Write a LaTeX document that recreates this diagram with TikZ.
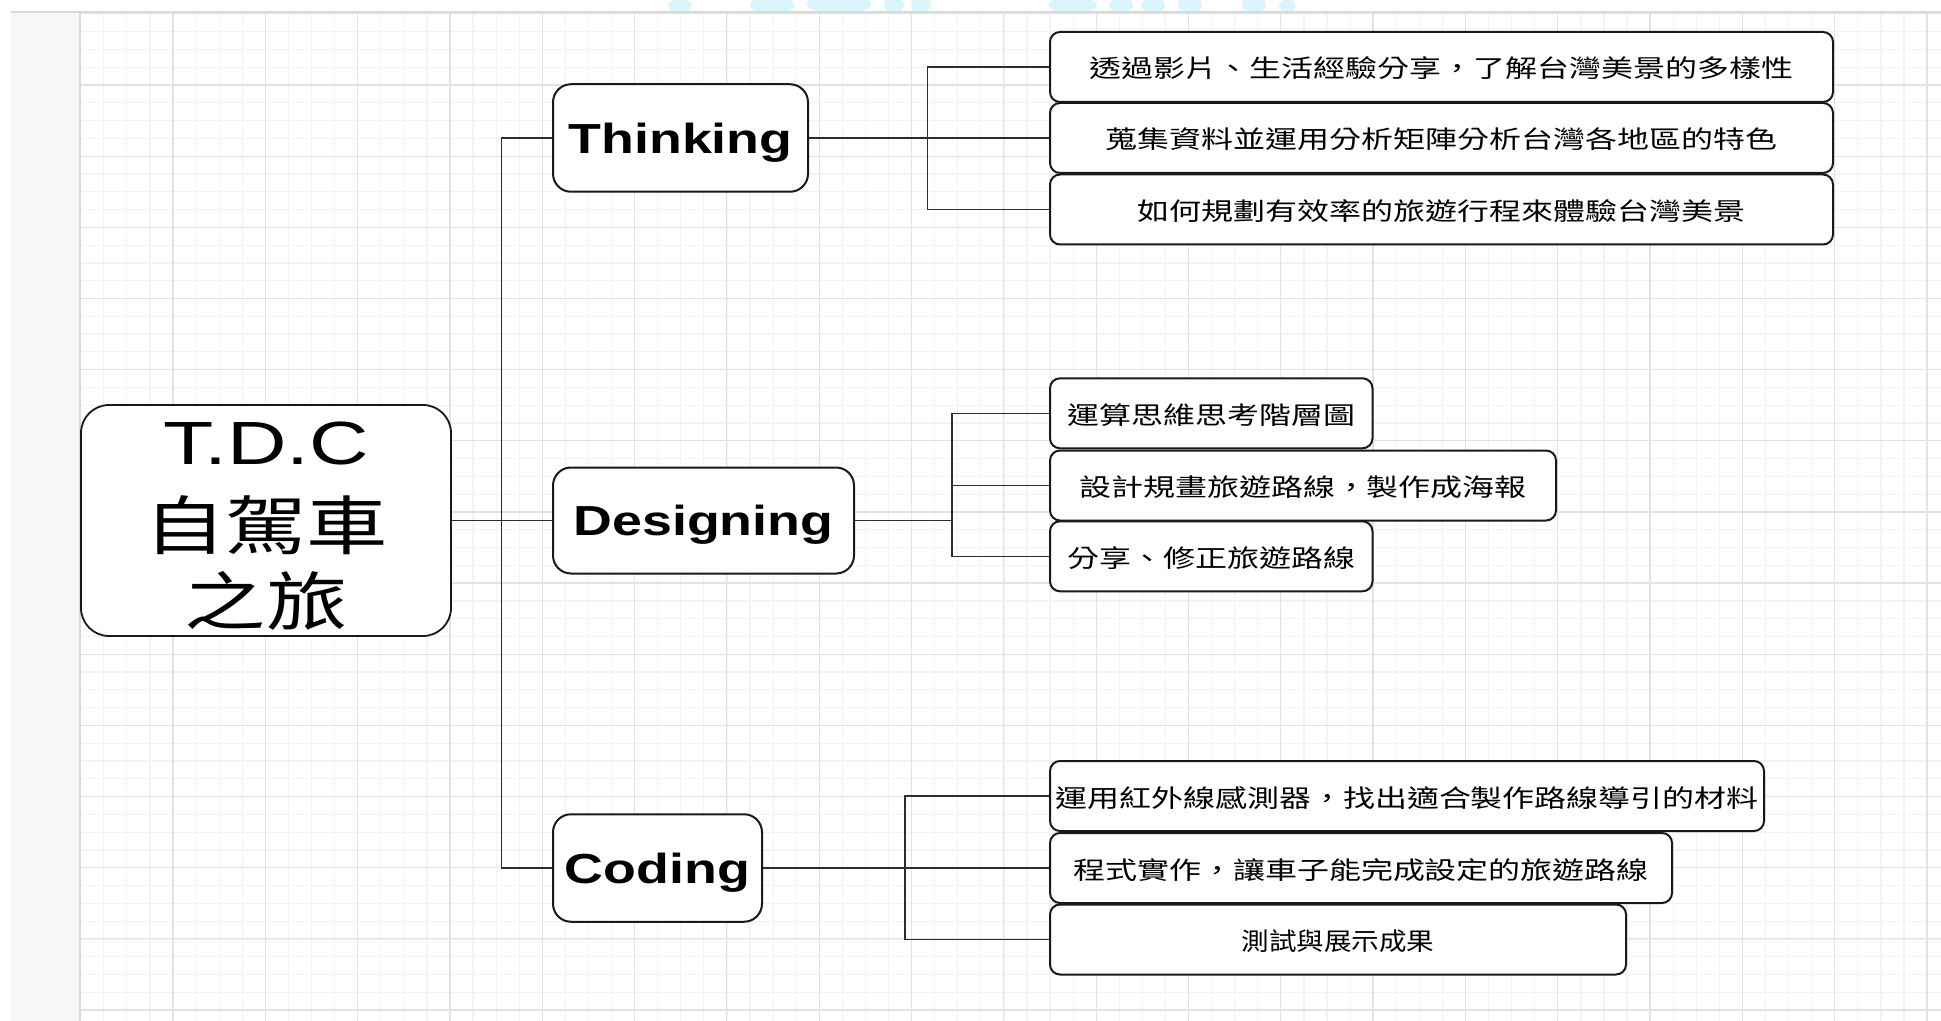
\documentclass[tikz,border=0pt]{standalone}
\usepackage{fontspec}
\setmainfont{Liberation Sans}
\newfontfamily\enfont[FakeStretch=1.28]{Liberation Sans}
\newfontfamily\tdcfont[FakeStretch=1.35]{Liberation Sans}
\newfontfamily\cjkfont[FakeStretch=1.3]{Noto Sans CJK TC}
\newfontfamily\cjknarrow[FakeStretch=1.12]{Noto Sans CJK TC}
\newfontfamily\tdccjk[FakeStretch=1.27]{Noto Sans CJK TC}
\usetikzlibrary{calc}
\definecolor{gmajor}{RGB}{226,226,226}
\definecolor{gminor}{RGB}{243,243,243}
\definecolor{sidestrip}{RGB}{245,247,249}
\definecolor{canvasedge}{RGB}{218,218,218}
\definecolor{boxline}{RGB}{25,25,25}
\definecolor{connline}{RGB}{45,45,45}
\definecolor{wmark}{RGB}{218,245,251}
\begin{document}
\begin{tikzpicture}[x=0.5pt,y=-0.5pt,
  mainbox/.style={draw=boxline,line width=1pt,rounded corners=9pt,fill=white,inner sep=0pt,
    text depth=0pt,font=\enfont\bfseries\fontsize{21}{25}\selectfont},
  childbox/.style={draw=boxline,line width=1pt,rounded corners=5pt,fill=white,inner sep=0pt,
    minimum height=35pt,text height=11pt,text depth=0pt,font=\cjkfont\fontsize{12.3}{15}\selectfont},
  rootbox/.style={draw=boxline,line width=0.9pt,rounded corners=14pt,fill=white,inner sep=0pt},
  roottext/.style={inner sep=0pt,align=center,font=\tdccjk\fontsize{32}{38}\selectfont},
  conn/.style={draw=connline,line width=0.7pt},
  gridmajor/.style={draw=gmajor,line width=0.6pt},
  gridminor/.style={draw=gminor,line width=0.6pt}]
% page and canvas
\useasboundingbox (0,0) rectangle (1941,1021);
\fill[white] (0,0) rectangle (1941,1021);
\fill[sidestrip] (11,12) rectangle (80,1021);
% faint watermark remnants at the top edge
\begin{scope}
  \clip (0,0) rectangle (1941,11.5);
  \fill[wmark] (680,6) ellipse (12 and 7);
  \fill[wmark] (772,5) ellipse (22 and 9);
  \fill[wmark] (839,4) ellipse (32 and 10);
  \fill[wmark] (894,5) ellipse (10 and 8);
  \fill[wmark] (921,5) ellipse (10 and 8);
  \fill[wmark] (1073,5) ellipse (24 and 9);
  \fill[wmark] (1121,5) ellipse (12 and 8);
  \fill[wmark] (1153,5) ellipse (12 and 8);
  \fill[wmark] (1190,5) ellipse (12 and 8);
  \fill[wmark] (1254,5) ellipse (12 and 8);
  \fill[wmark] (1287,6) ellipse (8 and 7);
\end{scope}
% grid
\begin{scope}
  \clip (80,12) rectangle (1941,1021);
  \foreach \i in {0,...,80} \draw[gridminor] ({80.7+23.08*\i},12) -- ({80.7+23.08*\i},1021);
  \foreach \j in {0,...,57} \draw[gridminor] (80,{13.85+17.79*\j}) -- (1941,{13.85+17.79*\j});
  \foreach \i in {0,...,20} \draw[gridmajor] ({80.7+92.31*\i},12) -- ({80.7+92.31*\i},1021);
  \foreach \j in {0,...,14} \draw[gridmajor] (80,{13.85+71.15*\j}) -- (1941,{13.85+71.15*\j});
\end{scope}
\draw[canvasedge,line width=0.7pt] (11,12) -- (1941,12);
\draw[canvasedge,line width=0.7pt] (80,12) -- (80,1021);
% root
\node[rootbox,minimum width=185pt,minimum height=115.5pt] (TDC) at (266,520.5) {};
\node[roottext] (TDCtext) at ([yshift=-2.8pt]TDC.center)
  {{\tdcfont\fontsize{30.5}{38}\selectfont T.D.C}\\[4.5pt]自駕車\\之旅};
% level 1
\node[mainbox,minimum width=127.5pt,minimum height=53.75pt] (Th) at (680.5,138) {Thinking};
\node[mainbox,minimum width=150.5pt,minimum height=53pt] (De) at (703.5,520.5) {Designing};
\node[mainbox,minimum width=104.5pt,minimum height=53.75pt] (Co) at (657.5,868) {Coding};
% level 2: Thinking
\node[childbox,minimum width=391.5pt] (T1) at (1441.5,67) {透過影片、生活經驗分享，了解台灣美景的多樣性};
\node[childbox,minimum width=391.5pt] (T2) at (1441.5,138) {蒐集資料並運用分析矩陣分析台灣各地區的特色};
\node[childbox,minimum width=391.5pt] (T3) at (1441.5,209.5) {如何規劃有效率的旅遊行程來體驗台灣美景};
% level 2: Designing
\node[childbox,minimum width=161.25pt] (D1) at (1211.25,413.3) {運算思維思考階層圖};
\node[childbox,minimum width=253pt] (D2) at (1303,485.5) {設計規畫旅遊路線，製作成海報};
\node[childbox,minimum width=161.25pt] (D3) at (1211.25,556.3) {分享、修正旅遊路線};
% level 2: Coding
\node[childbox,minimum width=357pt] (C1) at (1407,796) {運用紅外線感測器，找出適合製作路線導引的材料};
\node[childbox,minimum width=311pt] (C2) at (1361,868) {程式實作，讓車子能完成設定的旅遊路線};
\node[childbox,minimum width=288pt,font=\cjknarrow\fontsize{12.3}{15}\selectfont] (C3) at (1338,939.5) {測試與展示成果};
% bus coordinates
\coordinate (mbus) at (501.5,0);
\coordinate (tbus) at (927.6,0);
\coordinate (dbus) at (952,0);
\coordinate (cbus) at (905,0);
% connectors
\draw[conn] (TDC.east) -- (De.west);
\draw[conn] (Th.west) -- (Th.west -| mbus) -- (Co.west -| mbus) -- (Co.west);
\draw[conn] (Th.east) -- (T2.west);
\draw[conn] (T1.west) -- (T1.west -| tbus) -- (T3.west -| tbus) -- (T3.west);
\draw[conn] (De.east) -- (De.east -| dbus);
\draw[conn] (D1.west) -- (D1.west -| dbus) -- (D3.west -| dbus) -- (D3.west);
\draw[conn] (D2.west) -- (D2.west -| dbus);
\draw[conn] (Co.east) -- (C2.west);
\draw[conn] (C1.west) -- (C1.west -| cbus) -- (C3.west -| cbus) -- (C3.west);
\end{tikzpicture}
\end{document}
